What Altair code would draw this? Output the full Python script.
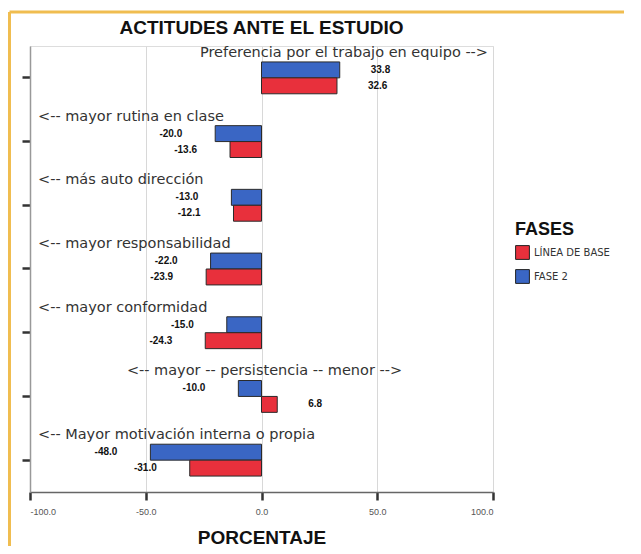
import altair as alt
import pandas as pd

categorias = [
    "Preferencia por el trabajo en equipo -->",
    "<-- mayor rutina en clase",
    "<-- más auto dirección",
    "<-- mayor responsabilidad",
    "<-- mayor conformidad",
    "<-- mayor -- persistencia -- menor -->",
    "<-- Mayor motivación interna o propia",
]
fase2 = [33.8, -20.0, -13.0, -22.0, -15.0, -10.0, -48.0]
linea_base = [32.6, -13.6, -12.1, -23.9, -24.3, 6.8, -31.0]
fases = ["LÍNEA DE BASE", "FASE 2"]
colores = ["#e8303c", "#3a66c4"]
ticks_x = [-100, -50, 0, 50, 100]

rows = []
for i, c in enumerate(categorias):
    rows.append({"cat": c, "idx": i, "fase": "FASE 2", "valor": fase2[i]})
    rows.append({"cat": c, "idx": i, "fase": "LÍNEA DE BASE", "valor": linea_base[i]})
df = pd.DataFrame(rows)
anot = pd.DataFrame({"cat": categorias, "idx": list(range(len(categorias)))})

FONT = "Liberation Sans"
FONT2 = "DejaVu Sans"
MINUS = "replace(format(datum.value, '.1f'), '\u2212', '-')"

xenc = alt.X(
    "valor:Q",
    scale=alt.Scale(domain=[-100, 100], nice=False),
    axis=alt.Axis(
        values=ticks_x, labelExpr=MINUS, title="PORCENTAJE", titleFontSize=19,
        titleFont=FONT, titleFontWeight="bold", titleColor="#111", titlePadding=12,
        labelFontSize=9, labelColor="#555", labelFont=FONT, labelPadding=7,
        domainColor="#666", domainWidth=1.5, tickColor="#333", tickSize=8, tickWidth=2.5,
        grid=True, gridColor="#d8d8d8",
    ),
)
yenc = alt.Y(
    "cat:N", sort=categorias,
    scale=alt.Scale(paddingInner=0.5, paddingOuter=0.25),
    axis=alt.Axis(labels=False, title=None, domainColor="#999", domainWidth=1.5,
                  tickColor="#333", tickSize=8, tickWidth=2.5, grid=False),
)
yoff = alt.YOffset("fase:N", sort=["FASE 2", "LÍNEA DE BASE"])

base = alt.Chart(df).transform_calculate(
    etiqueta="replace(format(datum.valor, '.1f'), '\u2212', '-')"
)
bars = base.mark_bar(stroke="#2a2a2a", strokeWidth=1).encode(
    x=xenc, y=yenc, yOffset=yoff,
    color=alt.Color(
        "fase:N", scale=alt.Scale(domain=fases, range=colores),
        legend=alt.Legend(
            title="FASES", orient="none", legendX=485, legendY=175,
            titleFontSize=18, titleFont=FONT, titleFontWeight="bold", titleColor="#111",
            titlePadding=6,
            labelFontSize=10, labelFont=FONT2, labelColor="#333", labelOffset=4,
            symbolType="square", symbolSize=190, symbolStrokeColor="#222",
            symbolStrokeWidth=1, rowPadding=5,
        ),
    ),
)
lab_neg = base.transform_filter("datum.valor < 0").mark_text(
    align="right", dx=-33, baseline="middle", fontSize=10, fontWeight="bold",
    font=FONT, color="#111",
).encode(x="valor:Q", y=alt.Y("cat:N", sort=categorias), yOffset=yoff,
         text="etiqueta:N")
lab_pos = base.transform_filter("datum.valor >= 0").mark_text(
    align="left", dx=31, baseline="middle", fontSize=10, fontWeight="bold",
    font=FONT, color="#111",
).encode(x="valor:Q", y=alt.Y("cat:N", sort=categorias), yOffset=yoff,
         text="etiqueta:N")

abase = alt.Chart(anot)
tstyle = dict(dy=-25, baseline="middle", fontSize=14.5, font=FONT2, color="#333")
an_left = abase.transform_filter("datum.idx != 0 && datum.idx != 5").mark_text(
    align="left", dx=8, **tstyle
).encode(x=alt.datum(-100), y=alt.Y("cat:N", sort=categorias), text="cat:N")
an_right = abase.transform_filter("datum.idx == 0").mark_text(
    align="right", dx=-5, **tstyle
).encode(x=alt.datum(100), y=alt.Y("cat:N", sort=categorias), text="cat:N")
an_center = abase.transform_filter("datum.idx == 5").mark_text(
    align="center", dx=3, **tstyle
).encode(x=alt.datum(0), y=alt.Y("cat:N", sort=categorias), text="cat:N")

# decorative orange page frame (top and left edges)
marco = alt.Chart(pd.DataFrame({"k": [0]}))
marco_top = marco.mark_rule(color="#f0bd50", strokeWidth=3).encode(
    x=alt.value(-20.5), x2=alt.value(594), y=alt.value(-34))
marco_left = marco.mark_rule(color="#f0bd50", strokeWidth=3).encode(
    x=alt.value(-20.5), y=alt.value(-34), y2=alt.value(500))

chart = alt.layer(
    bars, lab_neg, lab_pos, an_left, an_right, an_center, marco_top, marco_left
).properties(
    width=463, height=446,
    title=alt.Title("ACTITUDES ANTE EL ESTUDIO", fontSize=19, font=FONT,
                    fontWeight="bold", color="#111", anchor="middle", offset=7,
                    frame="group", dy=34),
    padding={"left": 0, "top": 2, "right": 0, "bottom": 0},
).configure_view(stroke="#aaaaaa", strokeWidth=1.5).configure(background="white")

chart.save("out.html", embed_options={"renderer": "svg", "actions": False})
